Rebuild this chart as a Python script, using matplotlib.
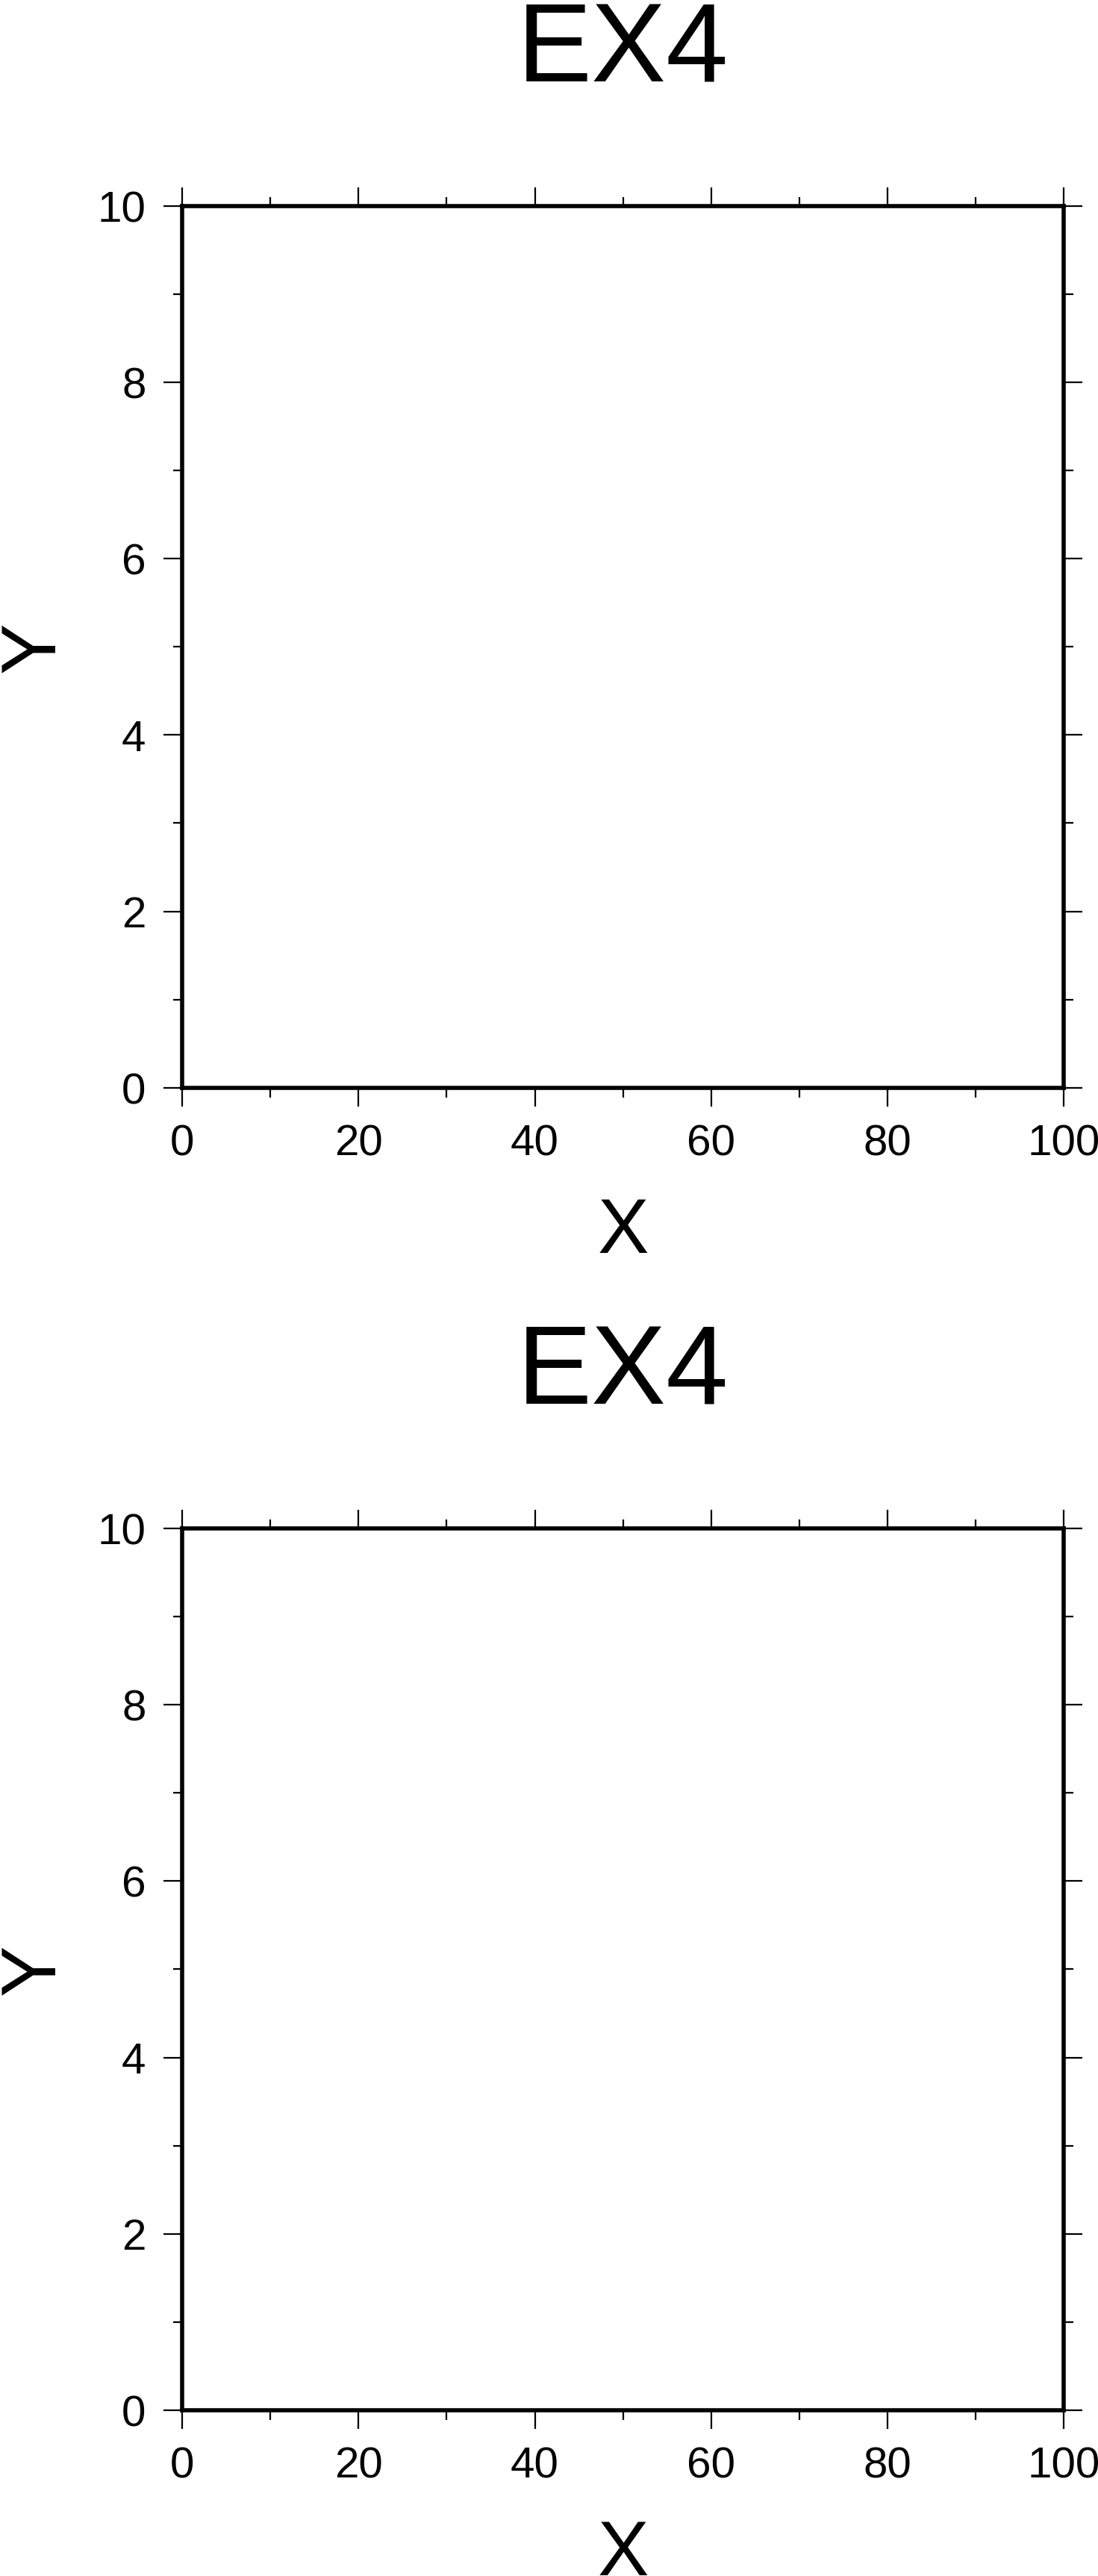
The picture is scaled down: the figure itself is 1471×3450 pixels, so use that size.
import numpy as np
import matplotlib
matplotlib.use("Agg")
import matplotlib.pyplot as plt
from matplotlib.ticker import MultipleLocator

# chart content
titles = ["EX4", "EX4"]
x_label = "X"
y_label = "Y"
x_limits = [0, 100]
y_limits = [0, 10]
x_major = [0, 20, 40, 60, 80, 100]
y_major = [0, 2, 4, 6, 8, 10]
x_minor_step = 10
y_minor_step = 1

W, H, DPI = 1471, 3450, 100
plt.rcParams["font.family"] = ["Liberation Sans", "DejaVu Sans"]

# small padding so the pixel size does not get truncated
fig = plt.figure(figsize=((W + 0.3) / DPI, (H + 0.3) / DPI), dpi=DPI)

# axes boxes in pixels: left, top, size
ax_left = 244
ax_size = 1181
ax_tops = [276, 2047]


def draw_panel(ax, title):
    ax.set_xlim(x_limits)
    ax.set_ylim(y_limits)
    ax.set_xticks(x_major)
    ax.set_yticks(y_major)
    ax.xaxis.set_minor_locator(MultipleLocator(x_minor_step))
    ax.yaxis.set_minor_locator(MultipleLocator(y_minor_step))

    for side in ax.spines.values():
        side.set_linewidth(4.0)
        side.set_color("black")

    ax.tick_params(which="both", direction="out", top=True, right=True,
                   bottom=True, left=True, labeltop=False, labelright=False,
                   width=1.6, color="black")
    ax.tick_params(which="major", length=18, pad=17, labelsize=42)
    ax.tick_params(which="minor", length=9)

    px = 1.0 / ax_size
    ax.text(0.5, 1 + 167 * px, title, transform=ax.transAxes,
            ha="center", va="baseline", fontsize=108)
    ax.text(0.5, -221 * px, x_label, transform=ax.transAxes,
            ha="center", va="baseline", fontsize=74)
    ax.text(-171 * px, 0.5, y_label, transform=ax.transAxes,
            ha="center", va="baseline", rotation=90,
            rotation_mode="anchor", fontsize=74)


for top, title in zip(ax_tops, titles):
    rect = [ax_left / W, (H - top - ax_size) / H, ax_size / W, ax_size / H]
    ax = fig.add_axes(rect)
    draw_panel(ax, title)

fig.savefig("out.png", dpi=DPI, facecolor="white")
